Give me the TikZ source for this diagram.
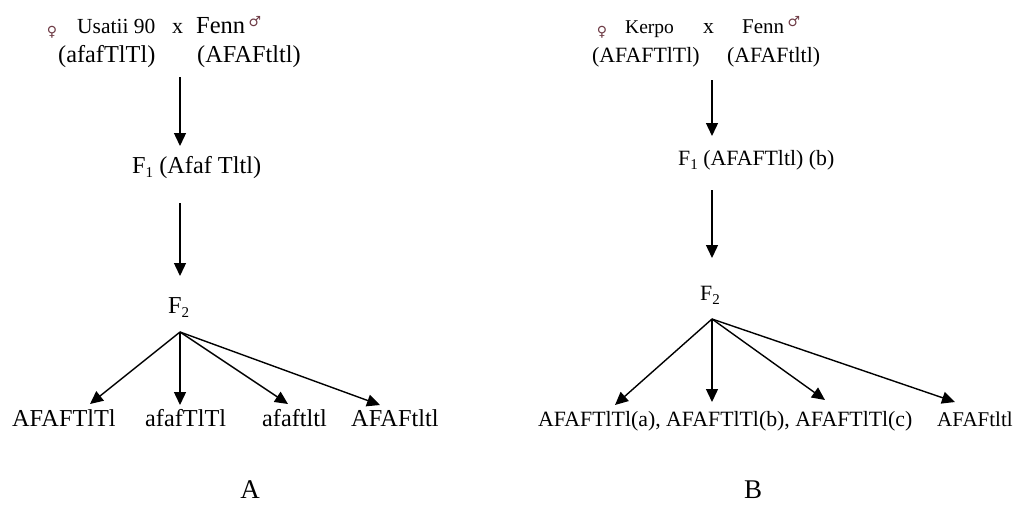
\documentclass[tikz,border=0pt]{standalone}
\usepackage{fontspec}
\setmainfont{Liberation Serif}
\newfontfamily\symfont{DejaVu Sans}
\usetikzlibrary{arrows.meta}
\definecolor{symcol}{RGB}{110,60,70}
\begin{document}
\begin{tikzpicture}[x=1pt,y=-1pt,
  txtA/.style={inner sep=0pt,anchor=base west,font=\fontsize{24.3}{28}\selectfont},
  txtB/.style={inner sep=0pt,anchor=base west,font=\fontsize{21.8}{26}\selectfont},
  sym/.style={inner sep=0pt,anchor=center,text=symcol,font=\symfont\fontsize{14}{14}\selectfont},
  lbl/.style={inner sep=0pt,anchor=center,font=\fontsize{27}{30}\selectfont},
  arr/.style={line width=1.4pt,-{Triangle[width=12pt,length=13pt]}}]
\useasboundingbox (0,0) rectangle (1016,506);
\newcommand{\sub}[1]{\raisebox{-4pt}{\fontsize{15}{15}\selectfont #1}}
% ---------- panel A ----------
\node[sym] (fA) at (52,32) {♀};
\node[txtA,font=\fontsize{21.5}{26}\selectfont] (usatii) at (77,33) {Usatii 90};
\node[txtA,font=\fontsize{22}{26}\selectfont] (xA) at (172,33) {x};
\node[txtA,font=\fontsize{24.5}{28}\selectfont] (fennA) at (196,33) {Fenn};
\node[sym] (mA) at (255,22) {♂};
\node[txtA] (pA1) at (58,62) {(afafTlTl)};
\node[txtA] (pA2) at (197,62) {(AFAFtltl)};
\node[txtA] (f1A) at (132,173) {F\sub{1} (Afaf Tltl)};
\node[txtA] (f2A) at (168,313) {F\sub{2}};
\node[txtA] (a1) at (12,426) {AFAFTlTl};
\node[txtA] (a2) at (145,426) {afafTlTl};
\node[txtA] (a3) at (262,426) {afaftltl};
\node[txtA] (a4) at (351,426) {AFAFtltl};
\node[lbl] (labA) at (250,490) {A};
\coordinate (A1s) at (180,77);
\coordinate (A1e) at (180,146);
\coordinate (A2s) at (180,203);
\coordinate (A2e) at (180,276);
\coordinate (Ao) at (180,332);
\coordinate (Ae1) at (90,404);
\coordinate (Ae2) at (180,405);
\coordinate (Ae3) at (288,404);
\coordinate (Ae4) at (380,405);
\draw[arr] (A1s) -- (A1e);
\draw[arr] (A2s) -- (A2e);
\foreach \e in {Ae1,Ae2,Ae3,Ae4} \draw[arr] (Ao) -- (\e);
% ---------- panel B ----------
\node[sym] (fB) at (602,32) {♀};
\node[txtB,font=\fontsize{19.5}{24}\selectfont] (kerpo) at (625,33) {Kerpo};
\node[txtB] (xB) at (703,33) {x};
\node[txtB,font=\fontsize{21}{25}\selectfont] (fennB) at (742,33) {Fenn};
\node[sym] (mB) at (794,22) {♂};
\node[txtB] (pB1) at (592,62) {(AFAFTlTl)};
\node[txtB] (pB2) at (727,62) {(AFAFtltl)};
\node[txtB] (f1B) at (678,165) {F\sub{1} (AFAFTltl) (b)};
\node[txtB] (f2B) at (700,300) {F\sub{2}};
\node[txtB] (b1) at (538,426) {AFAFTlTl(a), AFAFTlTl(b), AFAFTlTl(c)};
\node[txtB,font=\fontsize{21}{25}\selectfont] (b2) at (937,426) {AFAFtltl};
\node[lbl] (labB) at (753,490) {B};
\coordinate (B1s) at (712,80);
\coordinate (B1e) at (712,136);
\coordinate (B2s) at (712,190);
\coordinate (B2e) at (712,258);
\coordinate (Bo) at (712,319);
\coordinate (Be1) at (615,405);
\coordinate (Be2) at (712,402);
\coordinate (Be3) at (825,400);
\coordinate (Be4) at (955,402);
\draw[arr] (B1s) -- (B1e);
\draw[arr] (B2s) -- (B2e);
\foreach \e in {Be1,Be2,Be3,Be4} \draw[arr] (Bo) -- (\e);
\end{tikzpicture}
\end{document}
